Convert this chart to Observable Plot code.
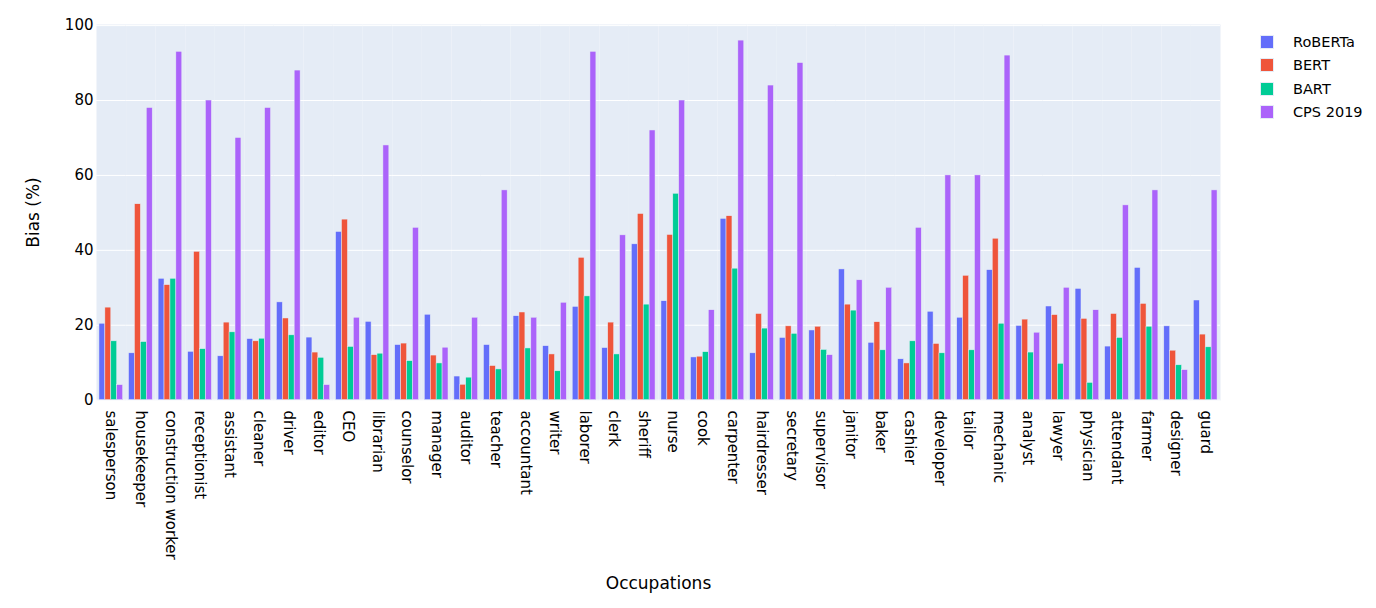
<!DOCTYPE html>
<html>
<head>
<meta charset="utf-8">
<script src="https://cdn.jsdelivr.net/npm/d3@7"></script>
<script src="https://cdn.jsdelivr.net/npm/@observablehq/plot@0.6"></script>
<style>
  body { margin: 0; background: #fff; font-family: "DejaVu Sans", Verdana, sans-serif; }
  #wrap { position: relative; width: 1376px; height: 608px; }
  #legend { position: absolute; left: 1260px; top: 30px; font-size: 14.5px; color: #000; }
  .row { display: flex; align-items: center; height: 23.5px; }
  .sw { width: 14px; height: 14px; box-sizing: border-box; border: 0.5px solid #E5ECF6; margin-right: 19px; }
</style>
</head>
<body>
<div id="wrap"><div id="chart"></div><div id="legend"></div></div>
<script>
const occupations = ["salesperson","housekeeper","construction worker","receptionist","assistant","cleaner","driver","editor","CEO","librarian","counselor","manager","auditor","teacher","accountant","writer","laborer","clerk","sheriff","nurse","cook","carpenter","hairdresser","secretary","supervisor","janitor","baker","cashier","developer","tailor","mechanic","analyst","lawyer","physician","attendant","farmer","designer","guard"];
const models = ["RoBERTa","BERT","BART","CPS 2019"];
const colors = ["#636efa","#EF553B","#00cc96","#ab63fa"];
const roberta = [20.4,12.5,32.4,12.9,11.7,16.3,26.1,16.7,44.9,20.9,14.7,22.8,6.3,14.7,22.4,14.4,24.9,13.9,41.6,26.4,11.4,48.4,12.5,16.6,18.6,34.9,15.3,10.9,23.6,22.0,34.7,19.8,25.0,29.7,14.3,35.3,19.7,26.6];
const bert = [24.7,52.3,30.7,39.6,20.7,15.7,21.8,12.7,48.2,12.0,15.1,11.9,4.1,9.1,23.4,12.2,38.0,20.7,49.7,44.1,11.6,49.1,23.0,19.7,19.6,25.5,20.8,9.8,15.0,33.2,43.1,21.5,22.7,21.7,23.0,25.7,13.2,17.5];
const bart = [15.7,15.5,32.4,13.6,18.1,16.4,17.3,11.3,14.2,12.4,10.4,9.8,6.0,8.2,13.8,7.7,27.7,12.2,25.5,55.1,12.8,35.1,19.1,17.7,13.4,23.9,13.3,15.7,12.5,13.3,20.4,12.7,9.7,4.6,16.6,19.6,9.3,14.1];
const cps = [4,78,93,80,70,78,88,4,22,68,46,14,22,56,22,26,93,44,72,80,24,96,84,90,12,32,30,46,60,60,92,18,30,24,52,56,8,56];
const yTicks = [0,20,40,60,80,100];

const series = [roberta, bert, bart, cps];
const data = occupations.flatMap((o, i) => models.map((m, j) => ({occupation: o, model: m, value: series[j][i]})));

const chart = Plot.plot({
  width: 1376,
  height: 608,
  marginLeft: 96,
  marginRight: 156,
  marginTop: 24,
  marginBottom: 208,
  style: {fontFamily: "DejaVu Sans, Verdana, sans-serif", fontSize: "15px", color: "#000", background: "#fff"},
  fx: {domain: occupations, padding: 0, round: false},
  x: {domain: models, paddingInner: 0, paddingOuter: 0.5, round: false, axis: null},
  y: {domain: [-0.1, 100.3]},
  color: {domain: models, range: colors},
  marks: [
    Plot.frame({fill: "#E5ECF6", stroke: null}),
    Plot.gridY(yTicks, {stroke: "#fff", strokeOpacity: 1, strokeWidth: 1}),
    Plot.barY(data, {fx: "occupation", x: "model", y: "value", fill: "model", stroke: "#E5ECF6", strokeWidth: 0.5}),
    Plot.axisY({ticks: yTicks, tickSize: 0, tickPadding: 3, label: "Bias (%)", labelAnchor: "center", labelArrow: "none", labelOffset: 70}),
    Plot.axisFx({anchor: "bottom", tickRotate: 90, tickSize: 0, tickPadding: 10, label: "Occupations", labelAnchor: "center", labelArrow: "none", labelOffset: 188})
  ]
});
document.getElementById("chart").appendChild(chart);
d3.select(chart).selectAll('g[aria-label="y-axis label"] text, g[aria-label="fx-axis label"] text').style("font-size", "17px");

const legend = d3.select("#legend");
models.forEach((m, i) => {
  const r = legend.append("div").attr("class", "row");
  r.append("div").attr("class", "sw").style("background", colors[i]);
  r.append("span").text(m);
});
</script>
</body>
</html>
